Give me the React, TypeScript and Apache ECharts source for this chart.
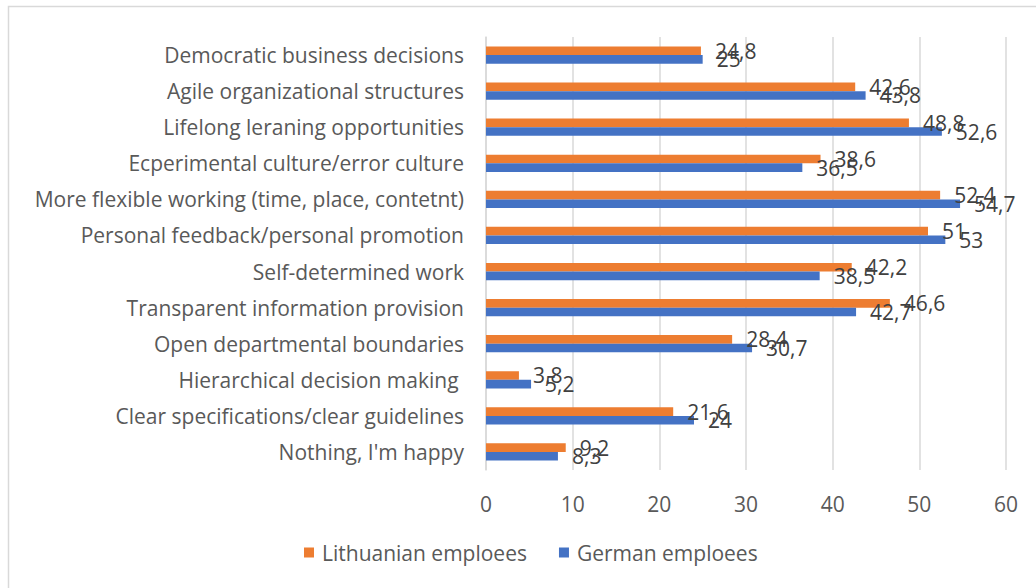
import React, { useEffect, useRef } from "react";
import * as echarts from "echarts";

const categories = [
  "Democratic business decisions",
  "Agile organizational structures",
  "Lifelong leraning opportunities",
  "Ecperimental culture/error culture",
  "More flexible working (time, place, contetnt)",
  "Personal feedback/personal promotion",
  "Self-determined work",
  "Transparent information provision",
  "Open departmental boundaries",
  "Hierarchical decision making ",
  "Clear specifications/clear guidelines",
  "Nothing, I'm happy",
];
const lithuanian = [24.8, 42.6, 48.8, 38.6, 52.4, 51, 42.2, 46.6, 28.4, 3.8, 21.6, 9.2];
const german = [25, 43.8, 52.6, 36.5, 54.7, 53, 38.5, 42.7, 30.7, 5.2, 24, 8.3];
const seriesNames = ["Lithuanian emploees", "German emploees"];

const FONT = "Open Sans";
const FS = 21;

export default function App() {
  const ref = useRef<HTMLDivElement>(null);
  useEffect(() => {
    const chart = echarts.init(ref.current!, null, { renderer: "svg" });
    const label = {
      show: true,
      position: "right",
      distance: 14,
      color: "#404040",
      fontFamily: FONT,
      fontSize: FS,
      formatter: (p: any) => String(p.value).replace(".", ","),
    };
    chart.setOption({
      animation: false,
      backgroundColor: "#ffffff",
      graphic: [
        {
          type: "rect",
          shape: { x: 8.5, y: 6.5, width: 1100, height: 700 },
          style: { fill: "none", stroke: "#d9d9d9", lineWidth: 1.5 },
          silent: true,
        },
      ],
      grid: { left: 486, right: 30, top: 37, height: 433, containLabel: false },
      legend: {
        bottom: 20,
        left: 299,
        itemWidth: 10,
        itemHeight: 10,
        itemGap: 32,
        icon: "rect",
        textStyle: { color: "#595959", fontFamily: FONT, fontSize: FS, padding: [0, 0, 0, 3] },
        data: seriesNames,
      },
      xAxis: {
        type: "value",
        min: 0,
        max: 60,
        interval: 10,
        axisLine: { show: false },
        axisTick: { show: false },
        axisLabel: { color: "#595959", fontFamily: FONT, fontSize: FS, margin: 23 },
        splitLine: { show: true, lineStyle: { color: "#d9d9d9", width: 1.5 } },
      },
      yAxis: {
        type: "category",
        inverse: true,
        data: categories,
        axisLine: { show: true, lineStyle: { color: "#d9d9d9", width: 1.5 } },
        axisTick: { show: false },
        axisLabel: { color: "#595959", fontFamily: FONT, fontSize: FS, margin: 22 },
      },
      series: [
        {
          name: seriesNames[0],
          type: "bar",
          data: lithuanian,
          itemStyle: { color: "#ED7D31" },
          barGap: "0%",
          barCategoryGap: "52%",
          label,
        },
        {
          name: seriesNames[1],
          type: "bar",
          data: german,
          itemStyle: { color: "#4472C4" },
          barGap: "0%",
          barCategoryGap: "52%",
          label,
        },
      ],
    });
    return () => chart.dispose();
  }, []);
  return (
    <div
      ref={ref}
      style={{ position: "fixed", left: 0, top: 0, width: 1036, height: 588 }}
    />
  );
}
